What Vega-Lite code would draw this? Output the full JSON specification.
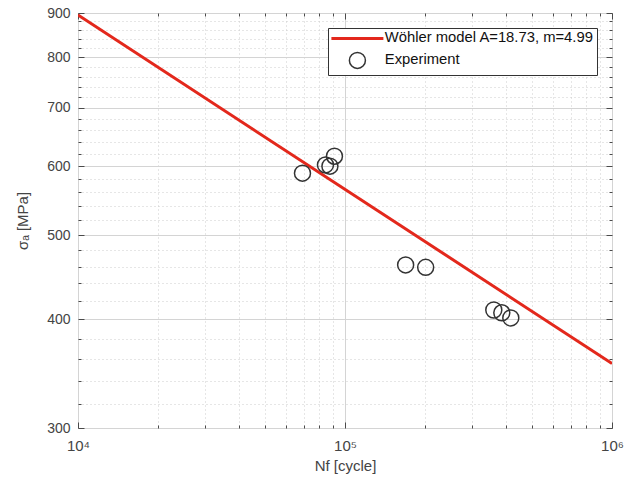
{
  "$schema": "https://vega.github.io/schema/vega-lite/v6.json",
  "width": 534,
  "height": 415,
  "autosize": {"type": "none"},
  "padding": {"left": 78, "top": 13, "right": 12, "bottom": 63},
  "background": "white",
  "config": {
    "font": "Liberation Sans",
    "view": {"stroke": "#4a4a4a", "strokeWidth": 1},
    "axis": {
      "domain": false,
      "tickColor": "#4a4a4a",
      "labelColor": "#444444",
      "titleColor": "#444444",
      "labelFont": "Liberation Sans",
      "titleFont": "Liberation Sans",
      "labelFontSize": 14,
      "titleFontSize": 15,
      "titleFontWeight": "normal"
    }
  },
  "layer": [
    {
      "data": {"values": [
        {"N": 10000, "S": 895.1, "series": "Wöhler model A=18.73, m=4.99"},
        {"N": 1000000, "S": 355.8, "series": "Wöhler model A=18.73, m=4.99"}
      ]},
      "mark": {"type": "line", "strokeWidth": 3, "clip": true},
      "encoding": {
        "x": {
          "field": "N", "type": "quantitative",
          "scale": {"type": "log", "domain": [10000, 1000000]},
          "axis": {
            "orient": "bottom",
            "values": [10000, 20000, 30000, 40000, 50000, 60000, 70000, 80000, 90000, 100000, 200000, 300000, 400000, 500000, 600000, 700000, 800000, 900000, 1000000],
            "labelExpr": "datum.value === 10000 ? '10⁴' : datum.value === 100000 ? '10⁵' : datum.value === 1000000 ? '10⁶' : ''",
            "labelFlush": false,
            "labelFontSize": 15,
            "grid": true,
            "gridColor": {"condition": {"test": "datum.value === 10000 || datum.value === 100000 || datum.value === 1000000", "value": "#d4d4d4"}, "value": "#cccccc"},
            "gridDash": {"condition": {"test": "datum.value === 10000 || datum.value === 100000 || datum.value === 1000000", "value": []}, "value": [1, 3]},
            "tickSize": {"condition": {"test": "datum.value === 10000 || datum.value === 100000 || datum.value === 1000000", "value": -6}, "value": -3},
            "labelPadding": 16,
            "title": "Nf [cycle]",
            "titlePadding": 5
          }
        },
        "y": {
          "field": "S", "type": "quantitative",
          "scale": {"type": "log", "domain": [300, 900]},
          "axis": {
            "orient": "left",
            "values": [300, 320, 340, 360, 380, 400, 420, 440, 460, 480, 500, 520, 540, 560, 580, 600, 620, 640, 660, 680, 700, 720, 740, 760, 780, 800, 820, 840, 860, 880, 900],
            "labelExpr": "datum.value % 100 === 0 ? format(datum.value, 'd') : ''",
            "labelFlush": false,
            "grid": true,
            "gridColor": {"condition": {"test": "datum.value % 100 === 0", "value": "#d4d4d4"}, "value": "#cccccc"},
            "gridDash": {"condition": {"test": "datum.value % 100 === 0", "value": []}, "value": [1, 3]},
            "tickSize": {"condition": {"test": "datum.value % 100 === 0", "value": -6}, "value": -3},
            "labelPadding": 14,
            "title": "σₐ [MPa]",
            "titlePadding": 16
          }
        },
        "color": {
          "field": "series", "type": "nominal",
          "scale": {"domain": ["Wöhler model A=18.73, m=4.99", "Experiment"], "range": ["#e3281c", "#333333"]},
          "legend": {
            "title": null,
            "orient": "top-right",
            "offset": 15,
            "strokeColor": "#333333",
            "fillColor": "white",
            "padding": 3,
            "rowPadding": 3,
            "symbolSize": 256,
            "symbolOffset": 19,
            "labelOffset": 20,
            "labelFont": "Liberation Sans",
            "labelFontSize": 14.8,
            "labelColor": "#111111",
            "labelLimit": 400,
            "encode": {
              "symbols": {
                "update": {
                  "shape": {"signal": "datum.value === 'Experiment' ? 'circle' : 'M-3.25,0L3.25,0'"},
                  "strokeWidth": {"signal": "datum.value === 'Experiment' ? 1.5 : 3"},
                  "fill": {"value": "transparent"}
                }
              }
            }
          }
        }
      }
    },
    {
      "data": {"values": [
        {"N": 69300, "S": 589, "series": "Experiment"},
        {"N": 84500, "S": 602, "series": "Experiment"},
        {"N": 87800, "S": 600, "series": "Experiment"},
        {"N": 91300, "S": 616, "series": "Experiment"},
        {"N": 168700, "S": 462, "series": "Experiment"},
        {"N": 200500, "S": 459, "series": "Experiment"},
        {"N": 360800, "S": 410, "series": "Experiment"},
        {"N": 386600, "S": 407, "series": "Experiment"},
        {"N": 417800, "S": 401.5, "series": "Experiment"}
      ]},
      "mark": {"type": "point", "filled": false, "size": 256, "strokeWidth": 1.5, "opacity": 1},
      "encoding": {
        "x": {
          "field": "N", "type": "quantitative",
          "scale": {"type": "log", "domain": [10000, 1000000]},
          "axis": {
            "orient": "top",
            "values": [10000, 20000, 30000, 40000, 50000, 60000, 70000, 80000, 90000, 100000, 200000, 300000, 400000, 500000, 600000, 700000, 800000, 900000, 1000000],
            "labels": false,
            "grid": false,
            "tickSize": {"condition": {"test": "datum.value === 10000 || datum.value === 100000 || datum.value === 1000000", "value": -6}, "value": -3},
            "title": null
          }
        },
        "y": {
          "field": "S", "type": "quantitative",
          "scale": {"type": "log", "domain": [300, 900]},
          "axis": {
            "orient": "right",
            "values": [300, 320, 340, 360, 380, 400, 420, 440, 460, 480, 500, 520, 540, 560, 580, 600, 620, 640, 660, 680, 700, 720, 740, 760, 780, 800, 820, 840, 860, 880, 900],
            "labels": false,
            "grid": false,
            "tickSize": {"condition": {"test": "datum.value % 100 === 0", "value": -6}, "value": -3},
            "title": null
          }
        },
        "color": {"field": "series", "type": "nominal"}
      }
    }
  ],
  "resolve": {"axis": {"x": "independent", "y": "independent"}}
}
